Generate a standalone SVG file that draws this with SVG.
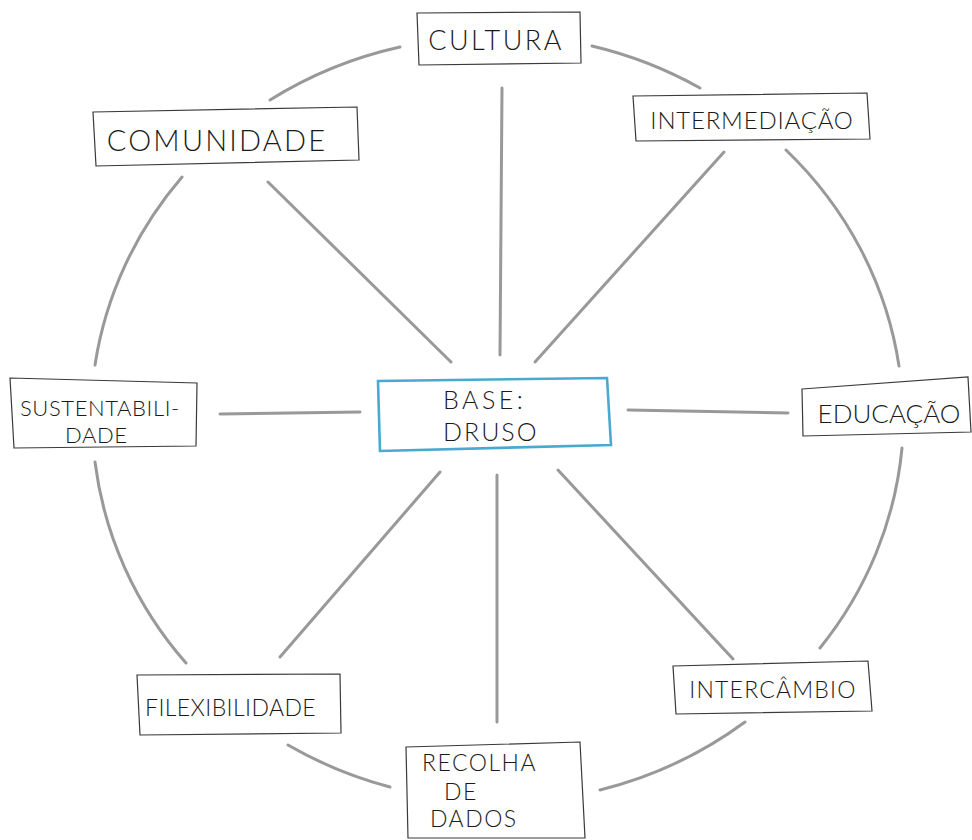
<svg xmlns="http://www.w3.org/2000/svg" width="972" height="840" viewBox="0 0 972 840">
<style>
.box{fill:#fff;stroke:#3a3a3a;stroke-width:1.2}
.main{fill:#fff;stroke:#4aa9cf;stroke-width:2.6}
.ln{fill:none;stroke:#999;stroke-width:3;stroke-linecap:round}
text{font-family:"Lato","Liberation Sans",sans-serif;font-weight:300;fill:#1a1a1a;text-anchor:middle;dominant-baseline:central}
.l{text-anchor:start}
</style>
<rect width="972" height="840" fill="#fff"/>
<g id="connectors">
<path class="ln" d="M270 100 A405 385 0 0 1 400 47"/>
<path class="ln" d="M592 46 A405 385 0 0 1 700 88"/>
<path class="ln" d="M786 150 A405 385 0 0 1 899 366"/>
<path class="ln" d="M902 448 A405 385 0 0 1 820 648"/>
<path class="ln" d="M745 722 A405 385 0 0 1 600 790"/>
<path class="ln" d="M390 787 A405 385 0 0 1 288 745"/>
<path class="ln" d="M186 663 A405 385 0 0 1 95 462"/>
<path class="ln" d="M95 365 A405 385 0 0 1 182 177"/>
<line class="ln" x1="502" y1="88" x2="500" y2="355"/>
<line class="ln" x1="724" y1="152" x2="535" y2="362"/>
<line class="ln" x1="628" y1="410" x2="788" y2="413"/>
<line class="ln" x1="558" y1="470" x2="733" y2="659"/>
<line class="ln" x1="497" y1="475" x2="497" y2="722"/>
<line class="ln" x1="440" y1="472" x2="280" y2="657"/>
<line class="ln" x1="220" y1="414" x2="360" y2="412"/>
<line class="ln" x1="268" y1="182" x2="451" y2="362"/>
</g>
<g id="cultura">
<polygon class="box" points="417,13 580,12 581,63 419,65"/>
<text x="496" y="39" font-size="27" letter-spacing="2.5">CULTURA</text>
</g>
<g id="intermediacao">
<polygon class="box" points="633,96 867,93 870,139 636,141"/>
<text x="752" y="119" font-size="24" letter-spacing="0.8">INTERMEDIAÇÃO</text>
</g>
<g id="comunidade">
<polygon class="box" points="93,112 357,107 359,160 96,166"/>
<text x="217" y="139" font-size="29" letter-spacing="2.2">COMUNIDADE</text>
</g>
<g id="base">
<polygon class="main" points="378,381 607,378 611,445 380,451"/>
<text class="l" x="443" y="399" font-size="25" letter-spacing="3.5">BASE:</text>
<text class="l" x="443" y="431" font-size="25" letter-spacing="2">DRUSO</text>
</g>
<g id="sustentabilidade">
<polygon class="box" points="10,378 197,383 196,446 14,448"/>
<text class="l" x="20" y="407" font-size="22" letter-spacing="0.6">SUSTENTABILI-</text>
<text class="l" x="65" y="434" font-size="22" letter-spacing="0.6">DADE</text>
</g>
<g id="educacao">
<polygon class="box" points="802,389 968,377 971,432 803,436"/>
<text x="889" y="413" font-size="26" letter-spacing="0">EDUCAÇÃO</text>
</g>
<g id="intercambio">
<polygon class="box" points="673,666 868,661 872,711 676,714"/>
<text x="773" y="689" font-size="23" letter-spacing="1.2">INTERCÂMBIO</text>
</g>
<g id="flexibilidade">
<polygon class="box" points="137,675 340,674 341,733 140,735"/>
<text class="l" x="145" y="707" font-size="23" letter-spacing="0.4">FILEXIBILIDADE</text>
</g>
<g id="recolha">
<polygon class="box" points="406,747 580,742 585,838 408,838"/>
<text class="l" x="422" y="762" font-size="23" letter-spacing="1.5">RECOLHA</text>
<text class="l" x="444" y="791" font-size="23" letter-spacing="1.5">DE</text>
<text class="l" x="430" y="818" font-size="23" letter-spacing="1.5">DADOS</text>
</g>
</svg>
